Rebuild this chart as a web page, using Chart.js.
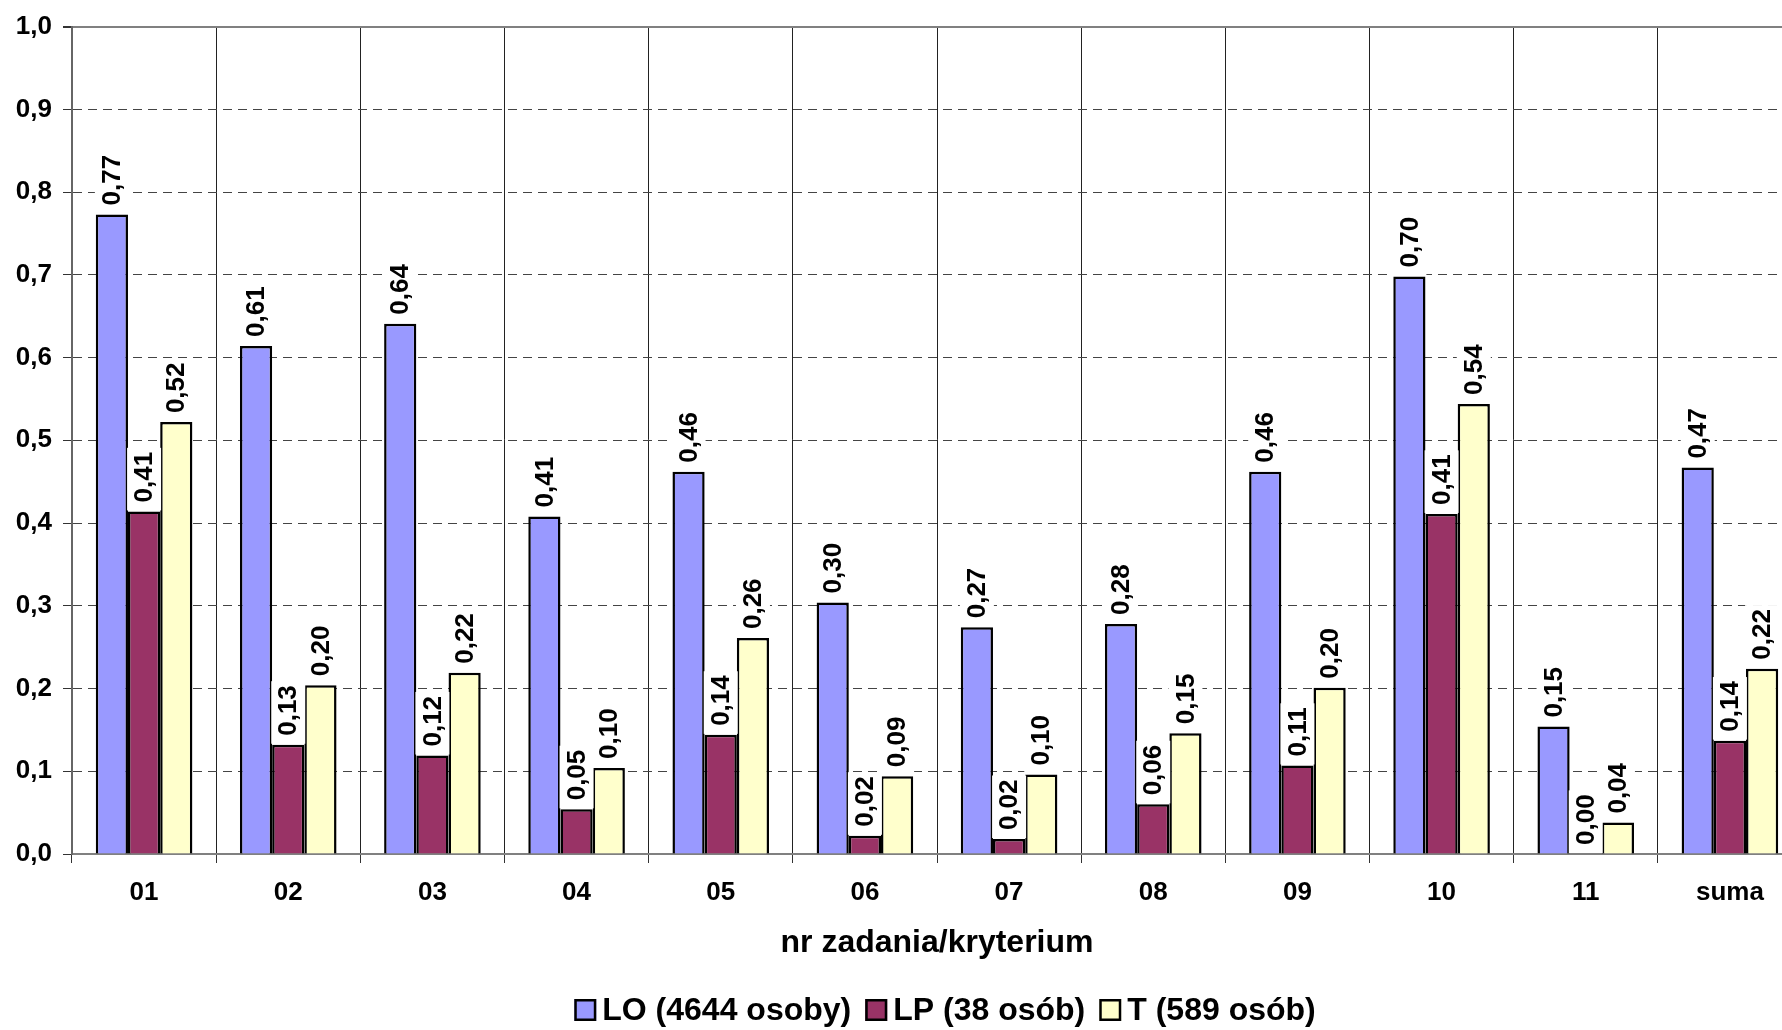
<!DOCTYPE html>
<html>
<head>
<meta charset="utf-8">
<script src="https://cdn.jsdelivr.net/npm/chart.js@4.4.1/dist/chart.umd.min.js"></script>
<style>
  html, body { margin: 0; padding: 0; background: #fff; overflow: hidden; }
  #wrap { width: 1830px; height: 1030px; position: relative; }
</style>
</head>
<body>
<div id="wrap"><canvas id="chart"></canvas></div>
<script>
const categories = ['01', '02', '03', '04', '05', '06', '07', '08', '09', '10', '11', 'suma'];
const seriesLabels = ['LO (4644 osoby)', 'LP (38 osób)', 'T (589 osób)'];
const valuesLO = [0.773, 0.614, 0.641, 0.408, 0.462, 0.304, 0.274, 0.278, 0.462, 0.698, 0.154, 0.467];
const valuesLP = [0.414, 0.132, 0.119, 0.054, 0.144, 0.022, 0.018, 0.060, 0.107, 0.411, 0.000, 0.137];
const valuesT = [0.522, 0.204, 0.219, 0.104, 0.261, 0.094, 0.096, 0.146, 0.201, 0.544, 0.038, 0.224];
const axisTitle = 'nr zadania/kryterium';

const FONT = '"Liberation Sans", Arial, sans-serif';
Chart.defaults.font.family = FONT;
Chart.defaults.font.weight = 'bold';
Chart.defaults.color = '#000';

const fmt = (v, d) => v.toFixed(d).replace('.', ',');

// rotated value labels on a white box above each bar
const barLabels = {
  id: 'barLabels',
  afterDatasetsDraw(chart) {
    const ctx = chart.ctx;
    ctx.save();
    ctx.font = 'bold 26px ' + FONT;
    chart.data.datasets.forEach((ds, i) => {
      chart.getDatasetMeta(i).data.forEach((bar, j) => {
        const txt = fmt(ds.data[j], 2);
        const w = ctx.measureText(txt).width;
        ctx.fillStyle = '#fff';
        ctx.fillRect(bar.x - 17, bar.y - 13 - w, 34, w + 12);
        ctx.save();
        ctx.translate(bar.x, bar.y - 9);
        ctx.rotate(-Math.PI / 2);
        ctx.textAlign = 'left';
        ctx.textBaseline = 'middle';
        ctx.fillStyle = '#000';
        ctx.fillText(txt, 0, 1);
        ctx.restore();
      });
    });
    ctx.restore();
  }
};

// legend under the axis title, centred like the original
const bottomLegend = {
  id: 'bottomLegend',
  afterDraw(chart) {
    const ctx = chart.ctx;
    ctx.save();
    ctx.font = 'bold 32px ' + FONT;
    const box = 22, gapIn = 6, gapOut = 14;
    const items = chart.data.datasets.map(ds => ({
      text: ds.label, color: ds.backgroundColor, w: ctx.measureText(ds.label).width
    }));
    const total = items.reduce((s, it) => s + box + gapIn + it.w, 0) + gapOut * (items.length - 1);
    let x = 945 - total / 2;
    const y = 1010;
    items.forEach(it => {
      ctx.fillStyle = it.color;
      ctx.fillRect(x, y - box / 2, box, box);
      ctx.lineWidth = 2.5;
      ctx.strokeStyle = '#000';
      ctx.strokeRect(x + 1.25, y - box / 2 + 1.25, box - 2.5, box - 2.5);
      ctx.fillStyle = '#000';
      ctx.textAlign = 'left';
      ctx.textBaseline = 'middle';
      ctx.fillText(it.text, x + box + gapIn, y + 1);
      x += box + gapIn + it.w + gapOut;
    });
    ctx.restore();
  }
};

const barStyle = { borderColor: '#000', borderWidth: 2.5, categoryPercentage: 0.67, barPercentage: 1.0 };

new Chart(document.getElementById('chart'), {
  type: 'bar',
  data: {
    labels: categories,
    datasets: [
      { label: seriesLabels[0], data: valuesLO, backgroundColor: '#9999FF', ...barStyle },
      { label: seriesLabels[1], data: valuesLP, backgroundColor: '#993366', ...barStyle },
      { label: seriesLabels[2], data: valuesT, backgroundColor: '#FFFFCC', ...barStyle }
    ]
  },
  options: {
    responsive: true,
    maintainAspectRatio: false,
    animation: false,
    events: [],
    layout: { padding: { top: 24, right: 28, bottom: 46, left: 0 } },
    plugins: {
      legend: { display: false },
      tooltip: { enabled: false }
    },
    scales: {
      x: {
        afterFit(scale) { scale.height = 130; },
        grid: { offset: true, color: '#222', lineWidth: 1, tickLength: 9, tickColor: '#333' },
        border: { color: '#808080', width: 2 },
        ticks: { padding: 14, font: { size: 26 } },
        title: {
          display: true, text: axisTitle,
          font: { size: 32, weight: 'bold' },
          padding: { top: 0, bottom: 22 }
        }
      },
      y: {
        min: 0, max: 1,
        afterFit(scale) { scale.width = 72; },
        grid: {
          color: c => (c.tick && c.tick.value >= 0.999 ? '#808080' : '#444'),
          lineWidth: c => (c.tick && c.tick.value >= 0.999 ? 2 : 1),
          tickLength: 9, tickColor: '#333', tickBorderDash: []
        },
        border: {
          color: '#666', width: 2,
          dash: c => (c.tick && (c.tick.value >= 0.999 || c.tick.value <= 0.001) ? [] : [9, 6])
        },
        ticks: {
          stepSize: 0.1, padding: 11,
          font: { size: 26 },
          callback: v => fmt(v, 1)
        }
      }
    }
  },
  plugins: [barLabels, bottomLegend]
});
</script>
</body>
</html>
